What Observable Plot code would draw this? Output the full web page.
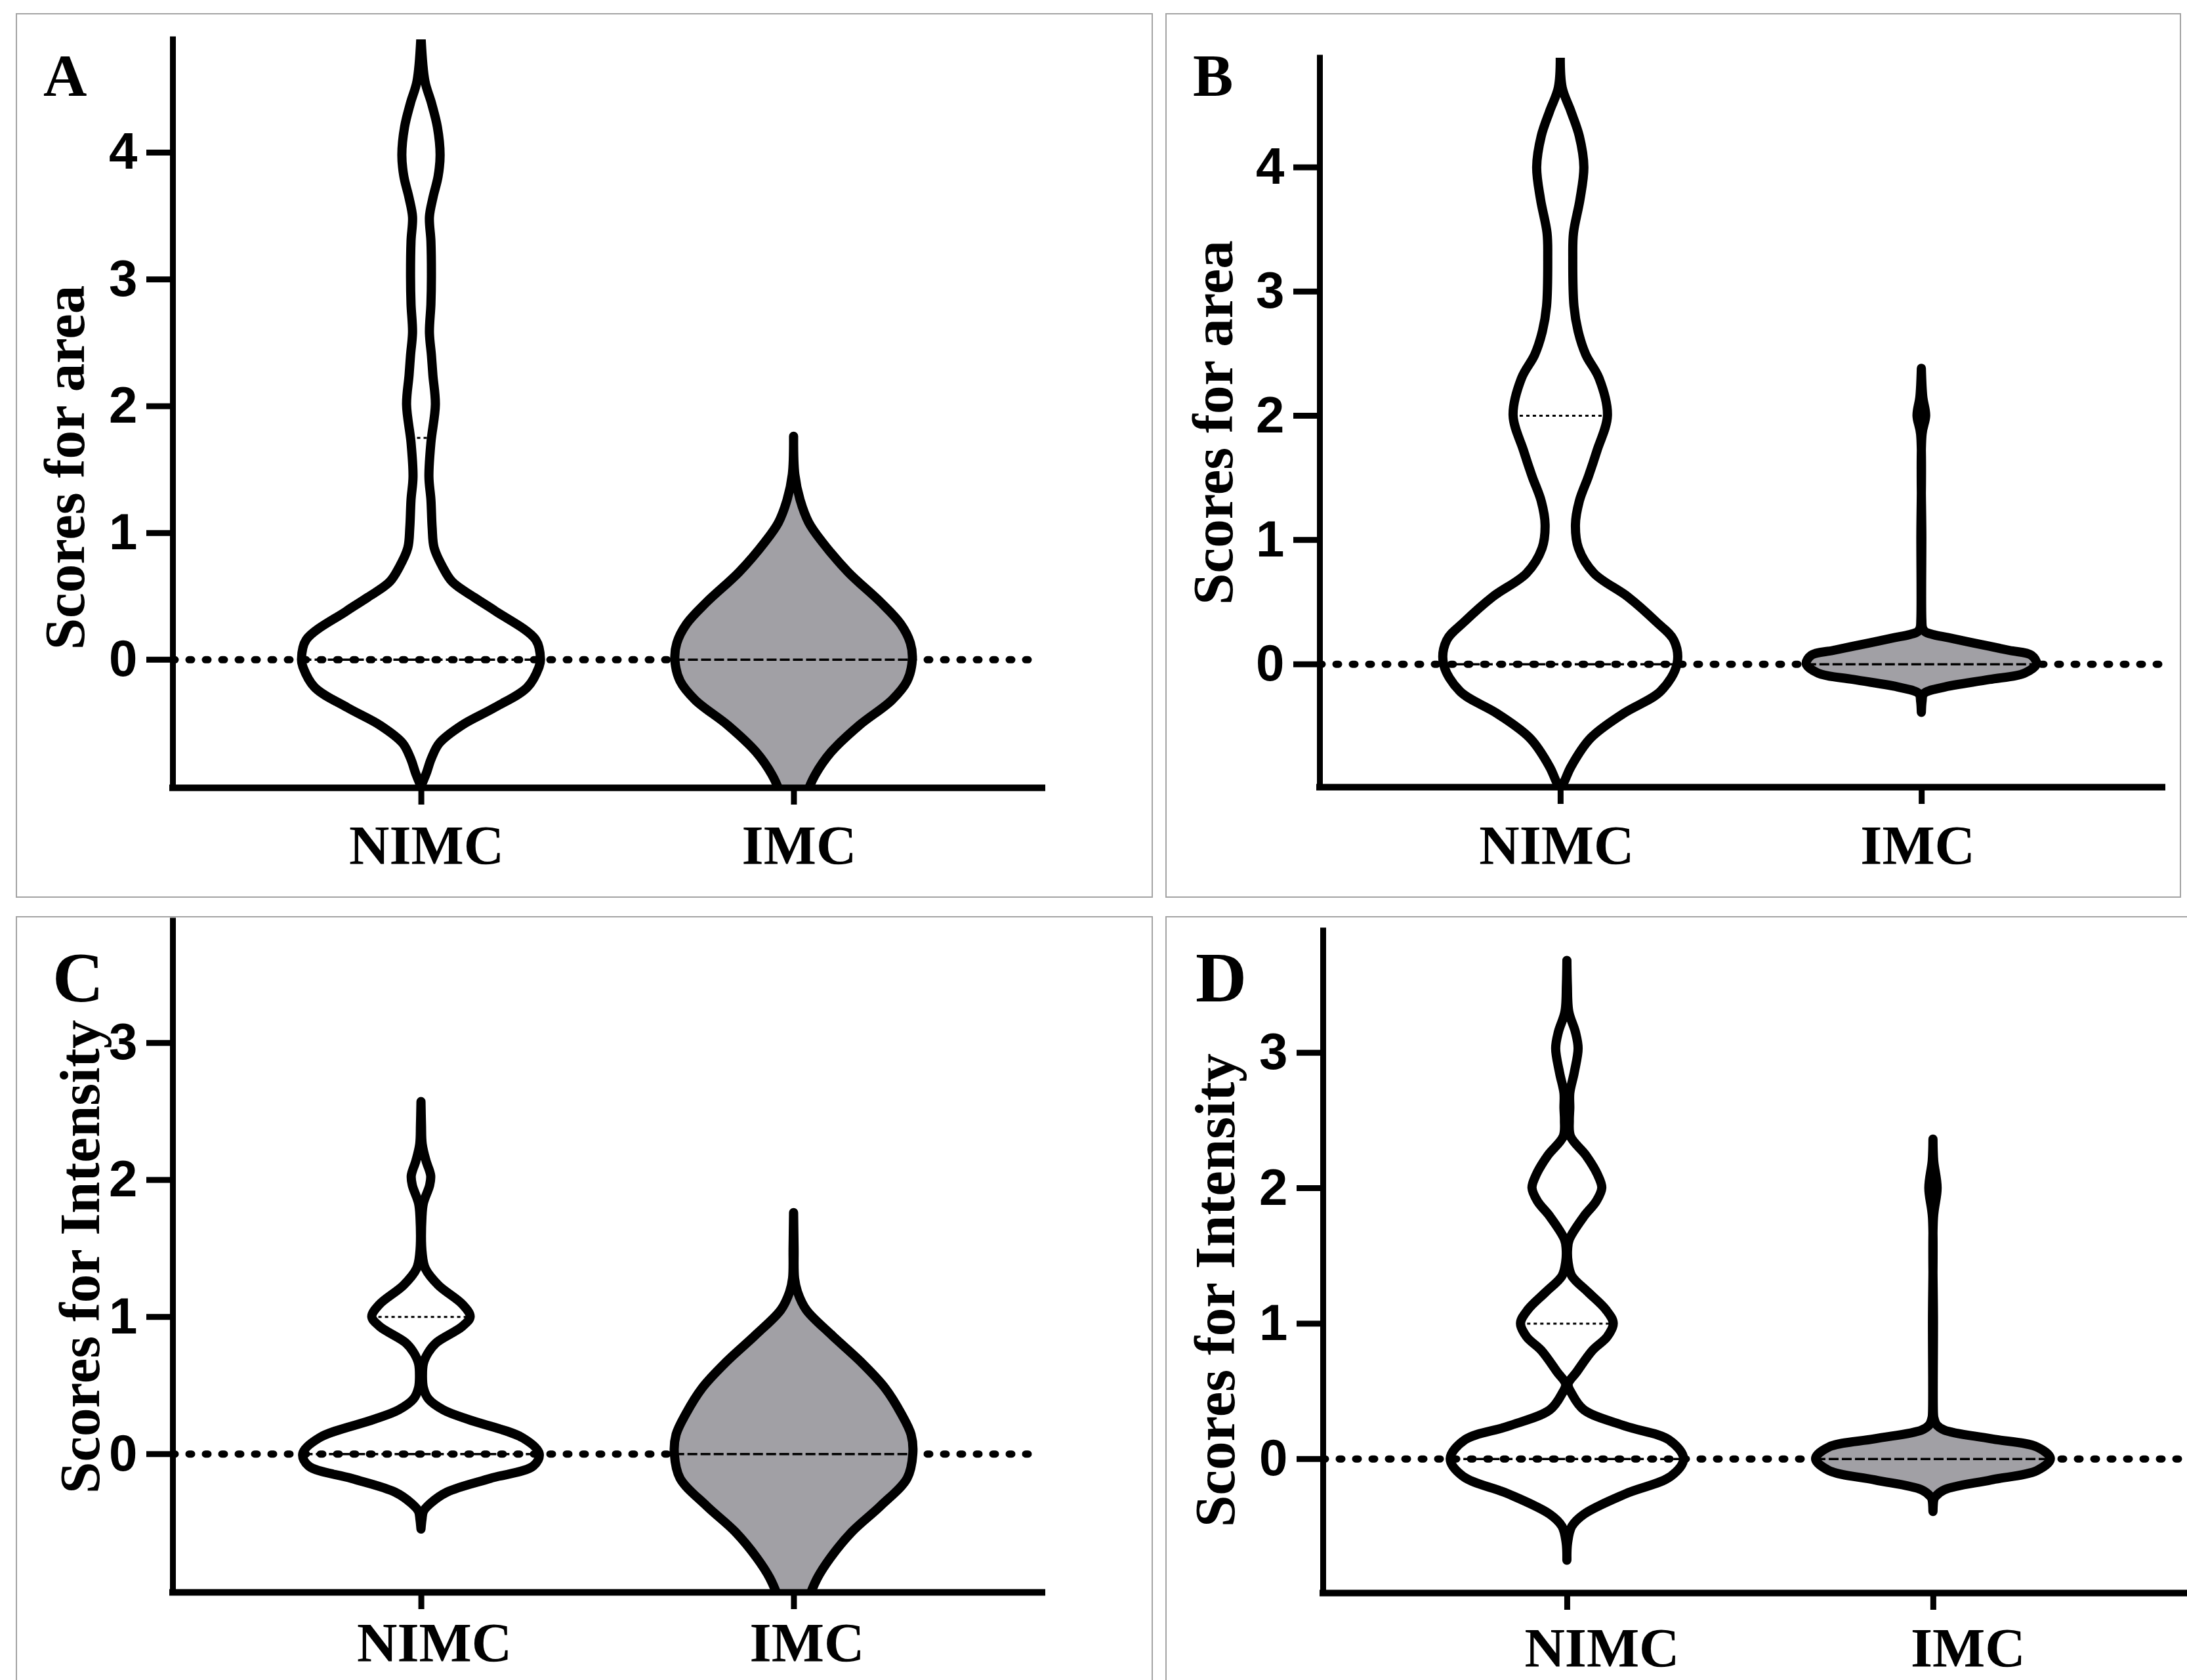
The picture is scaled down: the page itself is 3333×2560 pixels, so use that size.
<!DOCTYPE html>
<html><head><meta charset="utf-8">
<script src="https://cdn.jsdelivr.net/npm/d3@7"></script>
<script src="https://cdn.jsdelivr.net/npm/@observablehq/plot@0.6"></script>
<style>
html,body{margin:0;padding:0;background:#fff;}
body{width:3333px;height:2560px;position:relative;overflow:hidden;}
.frame{position:absolute;border:2px solid #a3a3a3;box-sizing:border-box;}
.plot{position:absolute;}
.letter{position:absolute;font-family:"Liberation Serif","Times New Roman",serif;font-weight:bold;line-height:1;color:#000;}
</style></head><body>
<script>
// ---- categories / labels ----
const groups = ["NIMC", "IMC"];
const groupPos = [1, 2.5];
const groupFill = ["none", "#a1a0a5"];
const panelLetters = ["A", "B", "C", "D"];
const yLabels = ["Scores for area", "Scores for area", "Scores for Intensity", "Scores for Intensity"];
const yTicksArea = [0, 1, 2, 3, 4];
const yTicksIntensity = [0, 1, 2, 3];

// ---- violin outlines: [score, half-width] ----
const aNIMC = [[-1.00,0],[-0.90,0.021],[-0.78,0.042],[-0.66,0.074],[-0.52,0.164],[-0.38,0.296],[-0.22,0.428],[-0.06,0.475],[0,0.481],[0.155,0.462],[0.38,0.301],[0.49,0.214],[0.61,0.127],[0.73,0.087],[0.88,0.053],[1.04,0.045],[1.26,0.040],[1.44,0.032],[1.71,0.040],[2.01,0.058],[2.24,0.048],[2.40,0.042],[2.58,0.034],[2.80,0.040],[3.02,0.042],[3.30,0.040],[3.49,0.034],[3.64,0.048],[3.81,0.069],[3.98,0.077],[4.20,0.066],[4.39,0.042],[4.56,0.016],[4.92,0]];
const aIMC = [[-1.15,0.050],[-1.04,0.058],[-0.91,0.087],[-0.73,0.151],[-0.52,0.264],[-0.32,0.396],[-0.17,0.457],[0,0.478],[0.13,0.470],[0.28,0.431],[0.45,0.351],[0.69,0.219],[0.93,0.114],[1.08,0.061],[1.26,0.026],[1.46,0.005],[1.76,0]];
const bNIMC = [[-1.0,0],[-0.95,0.016],[-0.83,0.044],[-0.60,0.125],[-0.40,0.262],[-0.22,0.417],[0,0.485],[0.19,0.472],[0.34,0.398],[0.54,0.281],[0.73,0.14],[0.93,0.076],[1.12,0.063],[1.31,0.079],[1.51,0.117],[1.72,0.153],[2.0,0.196],[2.30,0.161],[2.49,0.106],[2.68,0.074],[2.88,0.057],[3.27,0.052],[3.47,0.055],[3.74,0.082],[4.0,0.098],[4.25,0.079],[4.45,0.044],[4.64,0.008],[4.92,0]];
const bIMC = [[-0.39,0],[-0.30,0.003],[-0.24,0.01],[-0.19,0.088],[-0.126,0.282],[-0.075,0.428],[0,0.478],[0.07,0.457],[0.109,0.365],[0.16,0.238],[0.211,0.112],[0.236,0.049],[0.26,0.015],[0.29,0.005],[0.36,0.002],[1.0,0.002],[1.85,0.003],[2.0,0.018],[2.15,0.006],[2.38,0]];
const cNIMC = [[-0.55,0],[-0.48,0.004],[-0.42,0.01],[-0.36,0.04],[-0.28,0.105],[-0.18,0.28],[-0.09,0.452],[0,0.476],[0.115,0.41],[0.25,0.19],[0.32,0.09],[0.40,0.03],[0.48,0.01],[0.56,0.006],[0.66,0.01],[0.74,0.03],[0.81,0.062],[0.93,0.167],[1.0,0.198],[1.09,0.167],[1.23,0.07],[1.35,0.018],[1.46,0.005],[1.73,0.004],[1.83,0.01],[1.96,0.035],[2.03,0.039],[2.14,0.02],[2.26,0.005],[2.40,0.002],[2.57,0]];
const cIMC = [[-1.15,0.045],[-1.06,0.060],[-0.91,0.095],[-0.76,0.148],[-0.57,0.235],[-0.38,0.351],[-0.18,0.457],[0,0.48],[0.14,0.473],[0.29,0.434],[0.48,0.368],[0.67,0.271],[0.86,0.157],[1.05,0.051],[1.18,0.016],[1.28,0.004],[1.5,0.002],[1.76,0]];
const dNIMC = [[-0.75,0],[-0.62,0.003],[-0.5,0.02],[-0.41,0.07],[-0.26,0.24],[-0.13,0.426],[0,0.478],[0.14,0.417],[0.24,0.24],[0.36,0.07],[0.48,0.02],[0.55,0.005],[0.64,0.04],[0.80,0.105],[0.9,0.165],[1.0,0.19],[1.1,0.16],[1.23,0.087],[1.35,0.02],[1.45,0.005],[1.55,0.003],[1.62,0.01],[1.79,0.07],[1.9,0.12],[2.0,0.143],[2.1,0.125],[2.24,0.078],[2.38,0.015],[2.5,0.01],[2.59,0.012],[2.7,0.012],[2.85,0.03],[3.03,0.046],[3.15,0.035],[3.3,0.008],[3.5,0.002],[3.68,0]];
const dIMC = [[-0.39,0],[-0.30,0.004],[-0.28,0.01],[-0.23,0.047],[-0.157,0.238],[-0.086,0.428],[0,0.481],[0.085,0.428],[0.147,0.238],[0.211,0.047],[0.25,0.015],[0.30,0.004],[0.33,0.002],[1.0,0.002],[1.78,0.002],[2.0,0.017],[2.2,0.003],[2.36,0]];

// ---- quartile lines (per group; null = none) ----
const aMedian = [0, 0], aUpper = [1.75, null];
const bMedian = [0, 0], bUpper = [2, null];
const cMedian = [0, 0], cUpper = [1, null];
const dMedian = [0, 0], dUpper = [1, null];

const panels = [
  {violins: [aNIMC, aIMC], medians: aMedian, uppers: aUpper, ticks: yTicksArea, label: yLabels[0], letter: panelLetters[0]},
  {violins: [bNIMC, bIMC], medians: bMedian, uppers: bUpper, ticks: yTicksArea, label: yLabels[1], letter: panelLetters[1]},
  {violins: [cNIMC, cIMC], medians: cMedian, uppers: cUpper, ticks: yTicksIntensity, label: yLabels[2], letter: panelLetters[2]},
  {violins: [dNIMC, dIMC], medians: dMedian, uppers: dUpper, ticks: yTicksIntensity, label: yLabels[3], letter: panelLetters[3]}
];

// ---- layout (page pixels) ----
const layouts = [
  {fl:24, ft:20, fw:1733, fh:1348, left:25, top:21, width:1731, height:1346, ml:238, mr:168, mt:39, mb:167, xMax:3.5, yMin:-1.01, yMax:4.89, labelDx:-163, labelDy:82, xLabelDx:8, xPad:30, letterLeft:66, letterTop:69, letterSize:92},
  {fl:1776, ft:20, fw:1548, fh:1348, left:1777, top:21, width:1546, height:1346, ml:234, mr:28, mt:67, mb:168, xMax:3.5, yMin:-0.99, yMax:4.88, labelDx:-161, labelDy:0, xLabelDx:-6, xPad:31, letterLeft:1818, letterTop:69, letterSize:92},
  {fl:24, ft:1396, fw:1733, fh:1250, left:25, top:1397, width:1731, height:1163, ml:238, mr:168, mt:6, mb:134, xMax:3.5, yMin:-1.01, yMax:3.89, labelDx:-140, labelDy:0, xLabelDx:20, xPad:19, letterLeft:80, letterTop:1436, letterSize:108},
  {fl:1776, ft:1396, fw:1650, fh:1250, left:1777, top:1397, width:1583, height:1163, ml:239, mr:5, mt:21, mb:133, xMax:3.6, yMin:-0.99, yMax:3.9, labelDx:-163, labelDy:43, xLabelDx:53, xPad:26, letterLeft:1822, letterTop:1436, letterSize:108}
];

function halfWidthAt(pts, y) {
  for (let i = 1; i < pts.length; i++) {
    const [y0, w0] = pts[i - 1], [y1, w1] = pts[i];
    if (y >= y0 && y <= y1) return w0 + (w1 - w0) * (y - y0) / (y1 - y0);
  }
  return 0;
}

const sansBold = "Liberation Sans, Arial, Helvetica, sans-serif";
const serifBold = "Liberation Serif, Times New Roman, serif";

panels.forEach((p, i) => {
  const L = layouts[i];
  const frame = document.createElement("div");
  frame.className = "frame";
  Object.assign(frame.style, {left: L.fl + "px", top: L.ft + "px", width: L.fw + "px", height: L.fh + "px"});
  document.body.appendChild(frame);

  const lines = [];
  p.violins.forEach((pts, g) => {
    const c = groupPos[g];
    if (p.medians[g] != null) { const w = halfWidthAt(pts, p.medians[g]); lines.push({y: p.medians[g], x1: c - w, x2: c + w, kind: "median"}); }
    if (p.uppers[g] != null) { const w = halfWidthAt(pts, p.uppers[g]); lines.push({y: p.uppers[g], x1: c - w, x2: c + w, kind: "upper"}); }
  });

  const fills = p.violins.map((pts, g) => groupFill[g] === "none" ? null :
    Plot.areaX(pts, {y: d => d[0], x1: d => groupPos[g] - d[1], x2: d => groupPos[g] + d[1], fill: groupFill[g], curve: "catmull-rom", clip: true}));
  const outlines = p.violins.map((pts, g) =>
    Plot.areaX(pts, {y: d => d[0], x1: d => groupPos[g] - d[1], x2: d => groupPos[g] + d[1], fill: "none", stroke: "#000", strokeWidth: 14, strokeLinejoin: "round", curve: "catmull-rom", clip: true}));

  const svg = Plot.plot({
    width: L.width, height: L.height,
    marginLeft: L.ml, marginRight: L.mr, marginTop: L.mt, marginBottom: L.mb,
    x: {domain: [0, L.xMax]},
    y: {domain: [L.yMin, L.yMax]},
    style: {background: "transparent", overflow: "visible"},
    marks: [
      Plot.ruleY([0], {stroke: "#000", strokeWidth: 11, strokeDasharray: "4,21", strokeLinecap: "round"}),
      ...fills.filter(Boolean),
      Plot.ruleY(lines.filter(d => d.kind === "median"), {y: "y", x1: "x1", x2: "x2", stroke: "#000", strokeWidth: 3.5, strokeDasharray: "15,5"}),
      Plot.ruleY(lines.filter(d => d.kind === "upper"), {y: "y", x1: "x1", x2: "x2", stroke: "#000", strokeWidth: 3, strokeDasharray: "5,5"}),
      ...outlines,
      Plot.axisY({ticks: p.ticks, tickSize: 40, tickPadding: 14, strokeWidth: 9, fontSize: 78, fontWeight: "bold", fontFamily: sansBold, label: null, tickFormat: d => String(d)}),
      Plot.axisX({ticks: groupPos, tickSize: 26, strokeWidth: 9, tickFormat: () => "", label: null}),
      Plot.axisX({ticks: groupPos, tickSize: 0, tickPadding: 26 + L.xPad, dx: L.xLabelDx, fontSize: 85, fontWeight: "bold", fontFamily: serifBold, label: null, tickFormat: d => groups[groupPos.indexOf(d)]}),
      Plot.ruleX([0], {stroke: "#000", strokeWidth: 9, strokeLinecap: "square"}),
      Plot.ruleY([L.yMin], {stroke: "#000", strokeWidth: 10, strokeLinecap: "square"}),
      Plot.text([p.label], {frameAnchor: "left", textAnchor: "middle", lineAnchor: "middle", rotate: -90, dx: L.labelDx, dy: L.labelDy, fontSize: 87, fontWeight: "bold", fontFamily: serifBold, fill: "#000"})
    ]
  });
  const holder = document.createElement("div");
  holder.className = "plot";
  Object.assign(holder.style, {left: L.left + "px", top: L.top + "px", width: L.width + "px", height: L.height + "px"});
  holder.appendChild(svg);
  document.body.appendChild(holder);

  const letter = document.createElement("div");
  letter.className = "letter";
  letter.textContent = p.letter;
  Object.assign(letter.style, {left: L.letterLeft + "px", top: L.letterTop + "px", fontSize: L.letterSize + "px"});
  document.body.appendChild(letter);
});
</script>
</body></html>
